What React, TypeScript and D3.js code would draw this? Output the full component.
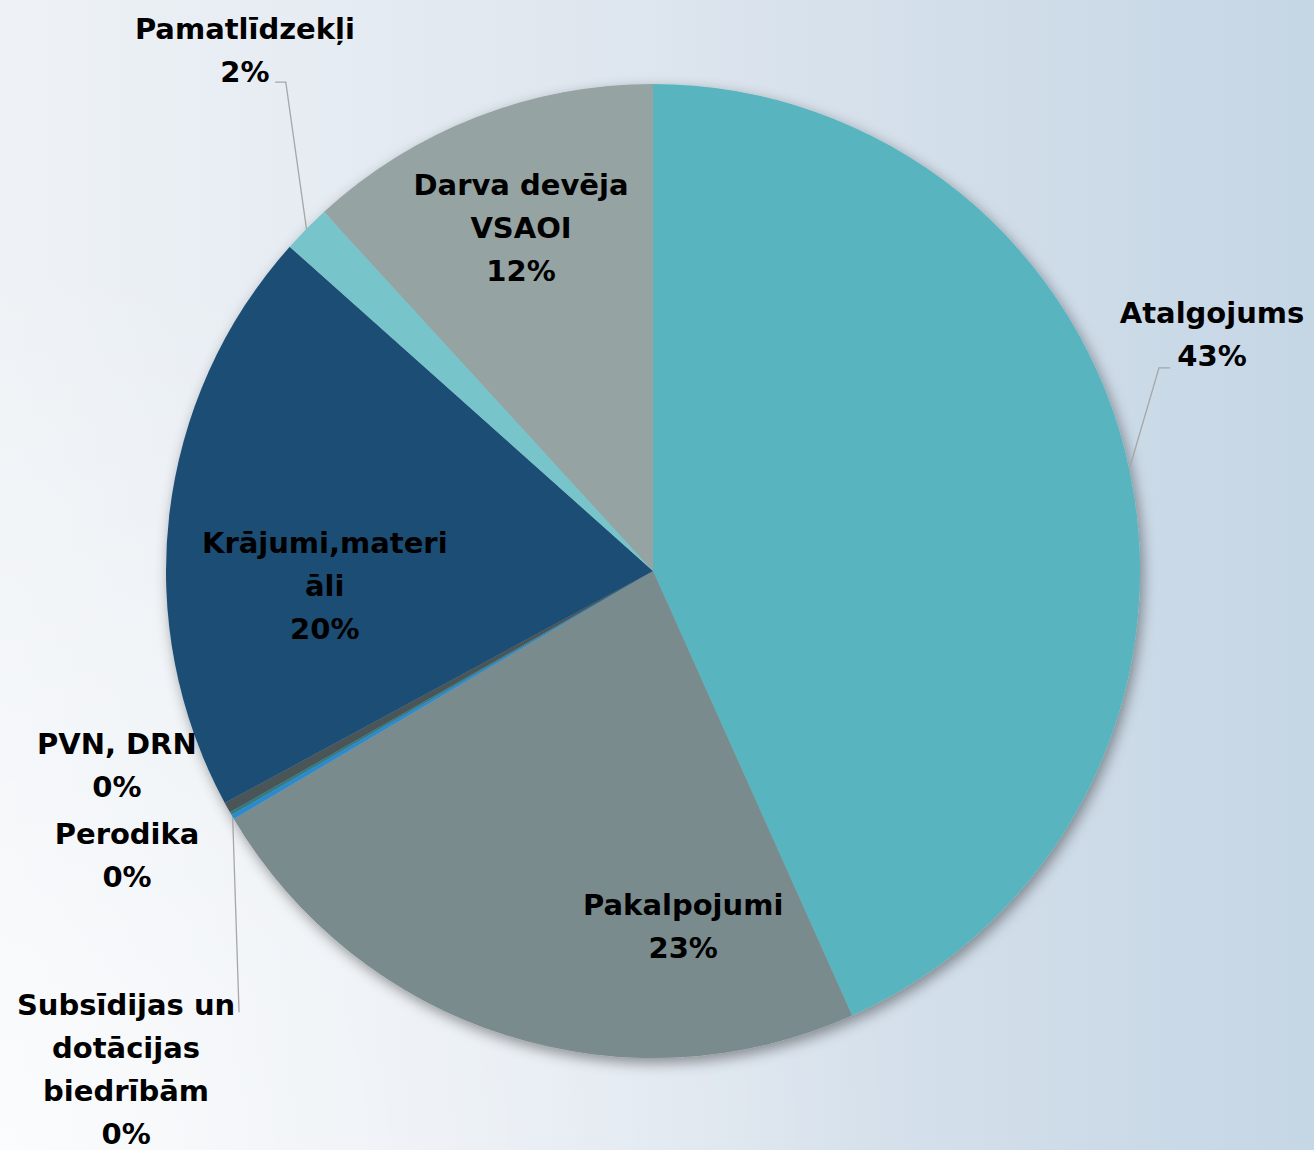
import React, { useEffect, useRef } from 'react';
import * as d3 from 'd3';

const categories = [
  'Atalgojums',
  'Pakalpojumi',
  'Subsīdijas un dotācijas biedrībām',
  'Perodika',
  'PVN, DRN',
  'Krājumi,materiāli',
  'Pamatlīdzekļi',
  'Darva devēja VSAOI',
];
const values = [43.3, 23.2, 0.15, 0.1, 0.35, 19.5, 1.6, 11.8];
const percentLabels = ['43%', '23%', '0%', '0%', '0%', '20%', '2%', '12%'];
// wrapped the way the original chart wraps them
const labelLines = [
  ['Atalgojums'],
  ['Pakalpojumi'],
  ['Subsīdijas un', 'dotācijas', 'biedrībām'],
  ['Perodika'],
  ['PVN, DRN'],
  ['Krājumi,materi', 'āli'],
  ['Pamatlīdzekļi'],
  ['Darva devēja', 'VSAOI'],
];
const colors = ['#58b5bf', '#7a8b8d', '#2c8acf', '#2e7b84', '#4a5457', '#1a4e74', '#78c4cb', '#95a3a3'];

// label block centres, in units of the pie radius
const labelPos: [number, number][] = [
  [1.148, -0.487],
  [0.062, 0.729],
  [-1.082, 1.022],
  [-1.08, 0.583],
  [-1.101, 0.398],
  [-0.674, 0.029],
  [-0.838, -1.07],
  [-0.271, -0.706],
];
// leader lines: slice index + bend points (radius units), starting at the arc edge
const leaders: { i: number; pts: [number, number][] }[] = [
  { i: 0, pts: [[1.039, -0.417], [1.062, -0.417]] },
  { i: 6, pts: [[-0.754, -1.004], [-0.776, -1.004]] },
  { i: 2, pts: [[-0.85, 0.906]] },
];

const W = 1314;
const H = 1150;

const App: React.FC = () => {
  const ref = useRef<SVGSVGElement | null>(null);

  useEffect(() => {
    document.body.style.margin = '0';
    if (!ref.current) return;
    const svg = d3.select(ref.current);
    svg.selectAll('*').remove();

    const defs = svg.append('defs');
    const grad = defs
      .append('linearGradient')
      .attr('id', 'bg')
      .attr('x1', '0%')
      .attr('y1', '0%')
      .attr('x2', '100%')
      .attr('y2', '0%');
    grad.append('stop').attr('offset', '0%').attr('stop-color', '#eef2f6');
    grad.append('stop').attr('offset', '50%').attr('stop-color', '#dde5ee');
    grad.append('stop').attr('offset', '100%').attr('stop-color', '#c5d6e5');

    const glow = defs
      .append('radialGradient')
      .attr('id', 'glow')
      .attr('gradientUnits', 'userSpaceOnUse')
      .attr('cx', 0)
      .attr('cy', H)
      .attr('r', 900);
    glow.append('stop').attr('offset', '0%').attr('stop-color', '#ffffff').attr('stop-opacity', 0.75);
    glow.append('stop').attr('offset', '100%').attr('stop-color', '#ffffff').attr('stop-opacity', 0);

    const f = defs.append('filter').attr('id', 'shadow').attr('x', '-10%').attr('y', '-10%').attr('width', '120%').attr('height', '120%');
    f.append('feDropShadow')
      .attr('dx', 3)
      .attr('dy', 5)
      .attr('stdDeviation', 7)
      .attr('flood-color', '#000')
      .attr('flood-opacity', 0.4);

    svg.append('rect').attr('width', W).attr('height', H).attr('fill', 'url(#bg)');
    svg.append('rect').attr('width', W).attr('height', H).attr('fill', 'url(#glow)');

    const cx = 653;
    const cy = 571;
    const R = 487;
    const g = svg.append('g').attr('transform', `translate(${cx},${cy})`);

    const data = values.map((v, i) => ({ name: categories[i], value: v, i }));
    const pie = d3.pie<{ name: string; value: number; i: number }>().value((d) => d.value).sort(null);
    const arcs = pie(data);
    const arc = d3.arc<d3.PieArcDatum<{ name: string; value: number; i: number }>>().innerRadius(0).outerRadius(R);

    g.append('g')
      .attr('filter', 'url(#shadow)')
      .selectAll('path')
      .data(arcs)
      .enter()
      .append('path')
      .attr('d', arc as any)
      .attr('fill', (d) => colors[d.data.i]);

    // leader lines
    const line = d3.line();
    leaders.forEach((l) => {
      const a = arcs[l.i];
      const mid = (a.startAngle + a.endAngle) / 2;
      const start: [number, number] = [R * Math.sin(mid), -R * Math.cos(mid)];
      const pts: [number, number][] = [start, ...l.pts.map(([x, y]) => [x * R, y * R] as [number, number])];
      g.append('path').attr('d', line(pts)).attr('fill', 'none').attr('stroke', '#a6a6a6').attr('stroke-width', 1.3);
    });

    // labels
    const lh = 43;
    data.forEach((d) => {
      const lines = [...labelLines[d.i], percentLabels[d.i]];
      const [px, py] = labelPos[d.i];
      const x = px * R;
      const y0 = py * R - ((lines.length - 1) * lh) / 2;
      const t = g
        .append('text')
        .attr('text-anchor', 'middle')
        .attr('font-family', '"DejaVu Sans", sans-serif')
        .attr('font-weight', 'bold')
        .attr('font-size', 29)
        .attr('fill', '#000');
      lines.forEach((s, k) => {
        t.append('tspan')
          .attr('x', x)
          .attr('y', y0 + k * lh)
          .attr('dy', '0.36em')
          .text(s);
      });
    });
  }, []);

  return <svg ref={ref} width={W} height={H} style={{ display: 'block' }} />;
};

export default App;
